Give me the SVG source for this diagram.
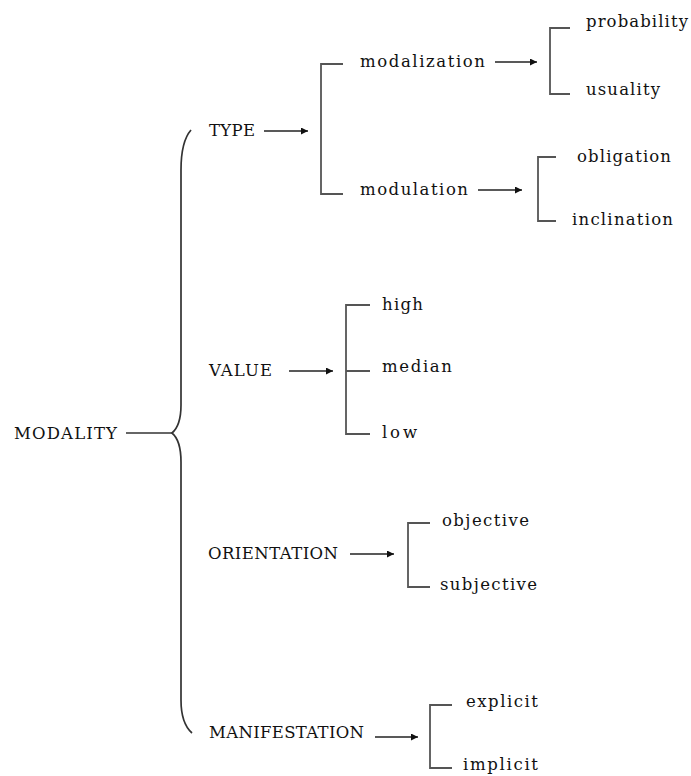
<svg xmlns="http://www.w3.org/2000/svg" width="691" height="776" viewBox="0 0 691 776">
  <defs>
    <marker id="arrow" viewBox="0 0 10 10" refX="10" refY="5" markerWidth="9" markerHeight="7" markerUnits="userSpaceOnUse" orient="auto">
      <path d="M0,0 L10,5 L0,10 z" fill="#111"/>
    </marker>
  </defs>
  <style>
    text { font-family: "DejaVu Serif", "Liberation Serif", serif; font-size: 16.5px; fill: #111; }
    .bracket { fill: none; stroke: #555; stroke-width: 1.8; }
    .arrow { fill: none; stroke: #222; stroke-width: 1.5; marker-end: url(#arrow); }
    .line { fill: none; stroke: #333; stroke-width: 1.5; }
    .brace { fill: none; stroke: #333; stroke-width: 1.7; }
  </style>
  <rect width="691" height="776" fill="#fff"/>

  <!-- connectors: brace, arrows and brackets -->
  <g id="connectors">
    <line class="line" x1="126" y1="433" x2="172" y2="433"/>
    <path class="brace" d="M191,130 C184,138 181,150 181,170 L181,405 C181,420 178,428 172,433 C178,438 181,446 181,462 L181,700 C181,716 184,726 192,733"/>

    <line class="arrow" x1="264" y1="131" x2="308" y2="131"/>
    <path class="bracket" d="M343,64 H321 V194 H343"/>

    <line class="arrow" x1="495" y1="62" x2="537" y2="62"/>
    <path class="bracket" d="M570,28 H550 V94 H570"/>

    <line class="arrow" x1="478" y1="190" x2="522" y2="190"/>
    <path class="bracket" d="M556,157 H538 V221 H556"/>

    <line class="arrow" x1="289" y1="371" x2="333" y2="371"/>
    <path class="bracket" d="M370,305 H346 V434 H370 M346,371 H370"/>

    <line class="arrow" x1="350" y1="554" x2="394" y2="554"/>
    <path class="bracket" d="M430,523 H408 V587 H430"/>

    <line class="arrow" x1="375" y1="737" x2="418" y2="737"/>
    <path class="bracket" d="M452,705 H430 V768 H452"/>
  </g>

  <!-- nodes -->
  <g id="modality"><text x="14" y="439" textLength="103" lengthAdjust="spacing">MODALITY</text></g>

  <g id="type"><text x="209" y="136" textLength="46" lengthAdjust="spacing">TYPE</text></g>
  <g id="modalization"><text x="360" y="67" textLength="125" lengthAdjust="spacing">modalization</text></g>
  <g id="probability"><text x="586" y="27" textLength="102" lengthAdjust="spacing">probability</text></g>
  <g id="usuality"><text x="586" y="95" textLength="74" lengthAdjust="spacing">usuality</text></g>
  <g id="modulation"><text x="360" y="195" textLength="108" lengthAdjust="spacing">modulation</text></g>
  <g id="obligation"><text x="577" y="162" textLength="94" lengthAdjust="spacing">obligation</text></g>
  <g id="inclination"><text x="572" y="225" textLength="101" lengthAdjust="spacing">inclination</text></g>

  <g id="value"><text x="209" y="376" textLength="63" lengthAdjust="spacing">VALUE</text></g>
  <g id="high"><text x="382" y="310" textLength="41" lengthAdjust="spacing">high</text></g>
  <g id="median"><text x="382" y="372" textLength="70" lengthAdjust="spacing">median</text></g>
  <g id="low"><text x="382" y="438" textLength="35" lengthAdjust="spacing">low</text></g>

  <g id="orientation"><text x="208" y="559" textLength="130" lengthAdjust="spacing">ORIENTATION</text></g>
  <g id="objective"><text x="442" y="526" textLength="87" lengthAdjust="spacing">objective</text></g>
  <g id="subjective"><text x="440" y="590" textLength="97" lengthAdjust="spacing">subjective</text></g>

  <g id="manifestation"><text x="209" y="738" textLength="155" lengthAdjust="spacing">MANIFESTATION</text></g>
  <g id="explicit"><text x="466" y="707" textLength="72" lengthAdjust="spacing">explicit</text></g>
  <g id="implicit"><text x="463" y="770" textLength="75" lengthAdjust="spacing">implicit</text></g>
</svg>
